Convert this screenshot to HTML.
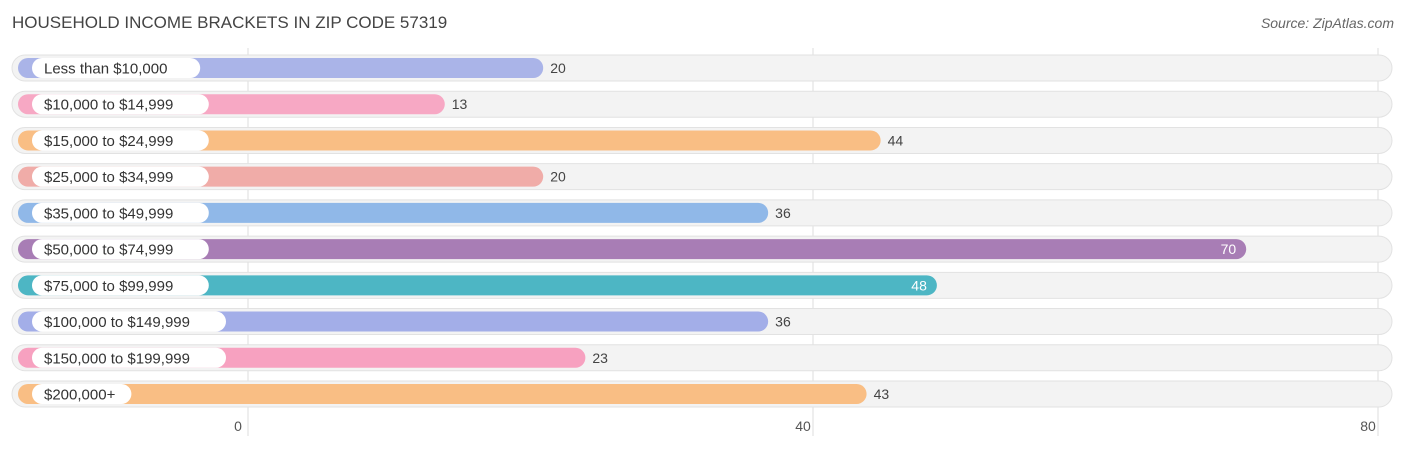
<!DOCTYPE html>
<html><head><meta charset="utf-8"><style>
body{margin:0;background:#fff;font-family:"Liberation Sans",sans-serif;}
svg text{font-family:"Liberation Sans",sans-serif;}
</style></head><body>
<svg id="chart" width="1406" height="450" xmlns="http://www.w3.org/2000/svg">
<text x="12" y="28" font-size="17" fill="#444">HOUSEHOLD INCOME BRACKETS IN ZIP CODE 57319</text>
<text x="1394" y="28" font-size="14" fill="#666" font-style="italic" text-anchor="end">Source: ZipAtlas.com</text>
<g id="grid"></g><g id="rows"></g><g id="ticks"></g>
</svg>
<script>
const categories=["Less than $10,000","$10,000 to $14,999","$15,000 to $24,999","$25,000 to $34,999","$35,000 to $49,999","$50,000 to $74,999","$75,000 to $99,999","$100,000 to $149,999","$150,000 to $199,999","$200,000+"];
const values=[20,13,44,20,36,70,48,36,23,43];
const colors=["#aab4e8","#f7a8c4","#f9be84","#f0aca8","#90b8e8","#a87db5","#4db6c4","#a3aee8","#f7a1c0","#f9be84"];
const tickValues=[0,40,80];
const NS="http://www.w3.org/2000/svg";
const gridX=v=>248+v*14.125;
const barEnd=v=>262+v*14.06;
const rowY=i=>68+i*36.22;
function mk(tag,attrs,parent){const e=document.createElementNS(NS,tag);for(const k in attrs)e.setAttribute(k,attrs[k]);parent.appendChild(e);return e;}
const grid=document.getElementById('grid'),rows=document.getElementById('rows'),ticks=document.getElementById('ticks');
tickValues.forEach(t=>{
  const l=mk('line',{x1:gridX(t),x2:gridX(t),y1:48,y2:436,stroke:'#ddd','stroke-width':1},grid);
  
  
  const tx=mk('text',{x:gridX(t)-10,y:431,'font-size':14,fill:'#555','text-anchor':'middle'},ticks);
  tx.textContent=t;
  
  
});
categories.forEach((c,i)=>{
  const y=rowY(i);
  const g=mk('g',{},rows);
  
  
  const tr=mk('rect',{x:12,y:y-13,width:1380,height:26,rx:13,fill:'#f3f3f3',stroke:'#e2e2e2'},g);
  
  
  const e=barEnd(values[i]);
  const b=mk('rect',{x:18,y:y-10,width:e-18,height:20,rx:10,fill:colors[i]},g);
  
  
  const lw=c.length*8.6+22;
  const p=mk('rect',{x:32,y:y-10,width:lw,height:20,rx:10,fill:'#fff'},g);
  
  
  const lt=mk('text',{x:44,y:y+5.5,'font-size':15,fill:'#333'},g);
  lt.textContent=c;
  
  
  const inside=values[i]>=48;
  const vt=mk('text',{x:inside?e-10:e+7,y:y+5,'font-size':14,fill:inside?'#fff':'#444','text-anchor':inside?'end':'start'},g);
  vt.textContent=values[i];
  
  
});
</script>
</body></html>
